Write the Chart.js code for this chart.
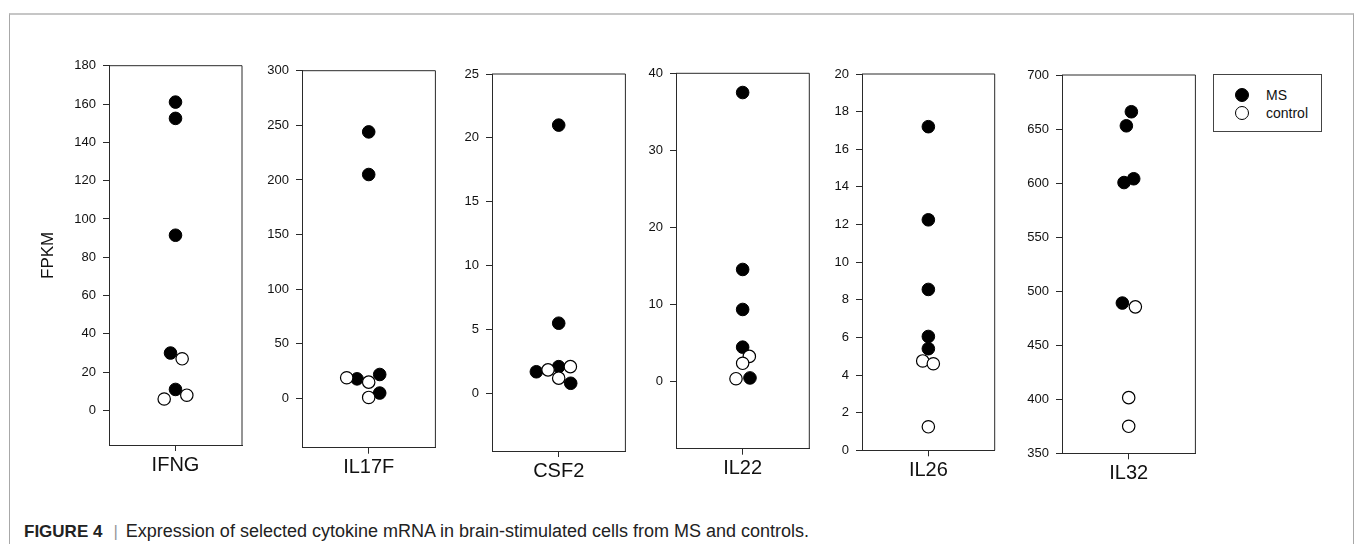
<!DOCTYPE html>
<html>
<head>
<meta charset="utf-8">
<script src="https://cdn.jsdelivr.net/npm/chart.js@4.4.1/dist/chart.umd.min.js"></script>
<style>
  html, body { margin: 0; padding: 0; background: #fff; }
  #fig { position: relative; width: 1355px; height: 544px; overflow: hidden; font-family: "Liberation Sans", Arial, sans-serif; }
  #frame { position: absolute; left: 9px; top: 13px; width: 1343px; height: 540px;
    border-top: 2px solid #c6c6c6; border-left: 1px solid #a8a8a8; border-right: 1px solid #a8a8a8; }
  .panel { position: absolute; top: 40px; }
  #legend { position: absolute; left: 1213px; top: 74px; width: 107px; height: 56px; border: 1px solid #444; font-size: 14px; color: #111; }
  #legend .row { position: absolute; left: 0; height: 18px; line-height: 18px; }
  #legend .dot { position: absolute; left: 21px; top: 2px; width: 12px; height: 12px; border-radius: 50%; border: 1px solid #000; }
  #legend .txt { position: absolute; left: 52px; top: 0; white-space: nowrap; }
  #caption { position: absolute; left: 24px; top: 521px; font-size: 18px; color: #222; white-space: nowrap; }
  #caption b { font-weight: bold; font-size: 17px; }
  #caption .bar { color: #999; margin: 0 8px 0 11px; font-size: 17px; }
</style>
</head>
<body>
<div id="fig">
  <div id="frame"></div>
  <div id="legend">
    <div class="row" style="top:11px"><span class="dot" style="background:#000"></span><span class="txt">MS</span></div>
    <div class="row" style="top:29px"><span class="dot" style="background:#fff"></span><span class="txt">control</span></div>
  </div>
  <div id="caption"><b>FIGURE 4</b><span class="bar">|</span>Expression of selected cytokine mRNA in brain-stimulated cells from MS and controls.</div>
</div>
<script>
// ---- data ----
const genes = ["IFNG", "IL17F", "CSF2", "IL22", "IL26", "IL32"];

const msValues = [
  [161, 152.5, 91.5, 30, 11],
  [244, 205, 22, 18, 5],
  [21, 5.5, 2.1, 1.7, 0.8],
  [37.5, 14.5, 9.3, 4.4, 0.4],
  [17.2, 12.25, 8.55, 6.05, 5.4],
  [666, 653, 604, 600.5, 489]
];
// horizontal jitter of the dots (axis units, -10..10 across the box)
const msJitter = [
  [0, 0, 0, -0.75, 0],
  [0, 0, 1.65, -1.75, 1.65],
  [0, 0, 0, -3.35, 1.8],
  [0, 0, 0, 0, 1.1],
  [0, 0, 0, 0, 0],
  [0.4, -0.35, 0.75, -0.7, -0.95]
];

const ctrlValues = [
  [27, 6, 8],
  [19, 15, 1],
  [1.85, 1.2, 2.1],
  [3.2, 2.3, 0.3],
  [4.75, 4.6, 1.25],
  [485.5, 401.5, 375]
];
const ctrlJitter = [
  [1.0, -1.7, 1.7],
  [-3.3, 0, 0],
  [-1.6, 0, 1.75],
  [1.0, 0, -1.0],
  [-0.85, 0.75, 0],
  [1.0, 0, 0]
];

const yMin = [-18, -45, -4.5, -8.8, 0, 350];
const yMax = [180, 300, 25, 40, 20, 700];
const yTicks = [
  [0, 20, 40, 60, 80, 100, 120, 140, 160, 180],
  [0, 50, 100, 150, 200, 250, 300],
  [0, 5, 10, 15, 20, 25],
  [0, 10, 20, 30, 40],
  [0, 2, 4, 6, 8, 10, 12, 14, 16, 18, 20],
  [350, 400, 450, 500, 550, 600, 650, 700]
];

// ---- layout: plot box of each panel in page pixels [left, right, top, bottom] ----
const boxes = [
  [109, 242, 65.7, 445],
  [302.3, 435.7, 70.7, 447.7],
  [492.3, 625.7, 74, 451],
  [676, 809.3, 73.3, 448.7],
  [862.3, 995, 74, 450.3],
  [1062.3, 1195.7, 75, 453.3]
];
const CANVAS_TOP = 40, CANVAS_BOTTOM = 495;
const axisColor = "#2a2a2a";
const fontFamily = "'Liberation Sans', Arial, sans-serif";

const frameBox = {
  id: "frameBox",
  afterDraw(chart) {
    const { ctx, chartArea: a } = chart;
    ctx.save();
    ctx.strokeStyle = axisColor;
    ctx.lineWidth = 1;
    ctx.beginPath();
    ctx.moveTo(a.left, a.top);
    ctx.lineTo(a.right, a.top);
    ctx.lineTo(a.right, a.bottom);
    ctx.stroke();
    ctx.restore();
  }
};

const fig = document.getElementById("fig");

genes.forEach((gene, i) => {
  const [bl, br, bt, bb] = boxes[i];
  const left = i === 0 ? 34 : bl - 60;
  const width = Math.round(br - left + 12);
  const height = CANVAS_BOTTOM - CANVAS_TOP;
  // wanted chart area inside the canvas
  const want = { left: bl - left, right: br - left, top: bt - CANVAS_TOP, bottom: bb - CANVAS_TOP };
  const fit = { xHeight: height - want.bottom };

  const wrap = document.createElement("div");
  wrap.className = "panel";
  wrap.style.left = left + "px";
  wrap.style.width = width + "px";
  wrap.style.height = height + "px";
  const canvas = document.createElement("canvas");
  canvas.width = width;
  canvas.height = height;
  wrap.appendChild(canvas);
  fig.appendChild(wrap);

  const chart = new Chart(canvas, {
    type: "scatter",
    data: {
      datasets: [
        {
          label: "MS",
          data: msValues[i].map((v, k) => ({ x: msJitter[i][k], y: v })),
          backgroundColor: "#000",
          borderColor: "#000",
          borderWidth: 1,
          pointRadius: 6.3,
          order: 1
        },
        {
          label: "control",
          data: ctrlValues[i].map((v, k) => ({ x: ctrlJitter[i][k], y: v })),
          backgroundColor: "#fff",
          borderColor: "#000",
          borderWidth: 1.2,
          pointRadius: 6.2,
          order: 0
        }
      ]
    },
    options: {
      responsive: false,
      animation: false,
      events: [],
      layout: { padding: { left: 0, right: width - want.right, top: want.top, bottom: 0 } },
      plugins: { legend: { display: false }, tooltip: { enabled: false } },
      scales: {
        x: {
          type: "linear",
          min: -10,
          max: 10,
          afterBuildTicks: (scale) => { scale.ticks = [{ value: 0 }]; },
          afterFit: (scale) => { scale.height = fit.xHeight; },
          ticks: {
            callback: () => gene,
            color: "#111",
            font: { family: fontFamily, size: 20 },
            padding: 2,
            maxRotation: 0
          },
          grid: { display: true, drawOnChartArea: false, drawTicks: true, tickLength: 6, color: axisColor },
          border: { display: true, color: axisColor, width: 1 }
        },
        y: {
          type: "linear",
          min: yMin[i],
          max: yMax[i],
          afterBuildTicks: (scale) => { scale.ticks = yTicks[i].map(v => ({ value: v })); },
          afterFit: (scale) => { scale.width = want.left; },
          ticks: {
            color: "#111",
            font: { family: fontFamily, size: 13 },
            padding: 7
          },
          grid: { display: true, drawOnChartArea: false, drawTicks: true, tickLength: 6, color: axisColor },
          border: { display: true, color: axisColor, width: 1 },
          title: {
            display: i === 0,
            text: "FPKM",
            color: "#111",
            font: { family: fontFamily, size: 17 },
            padding: { top: 4, bottom: 4 }
          }
        }
      }
    },
    plugins: [frameBox]
  });

  // nudge the layout so the plot box lands where the reference has it
  for (let pass = 0; pass < 3; pass++) {
    const a = chart.chartArea;
    const p = chart.options.layout.padding;
    p.right += a.right - want.right;
    p.top -= a.top - want.top;
    fit.xHeight += a.bottom - want.bottom;
    chart.update();
  }
});
</script>
</body>
</html>
